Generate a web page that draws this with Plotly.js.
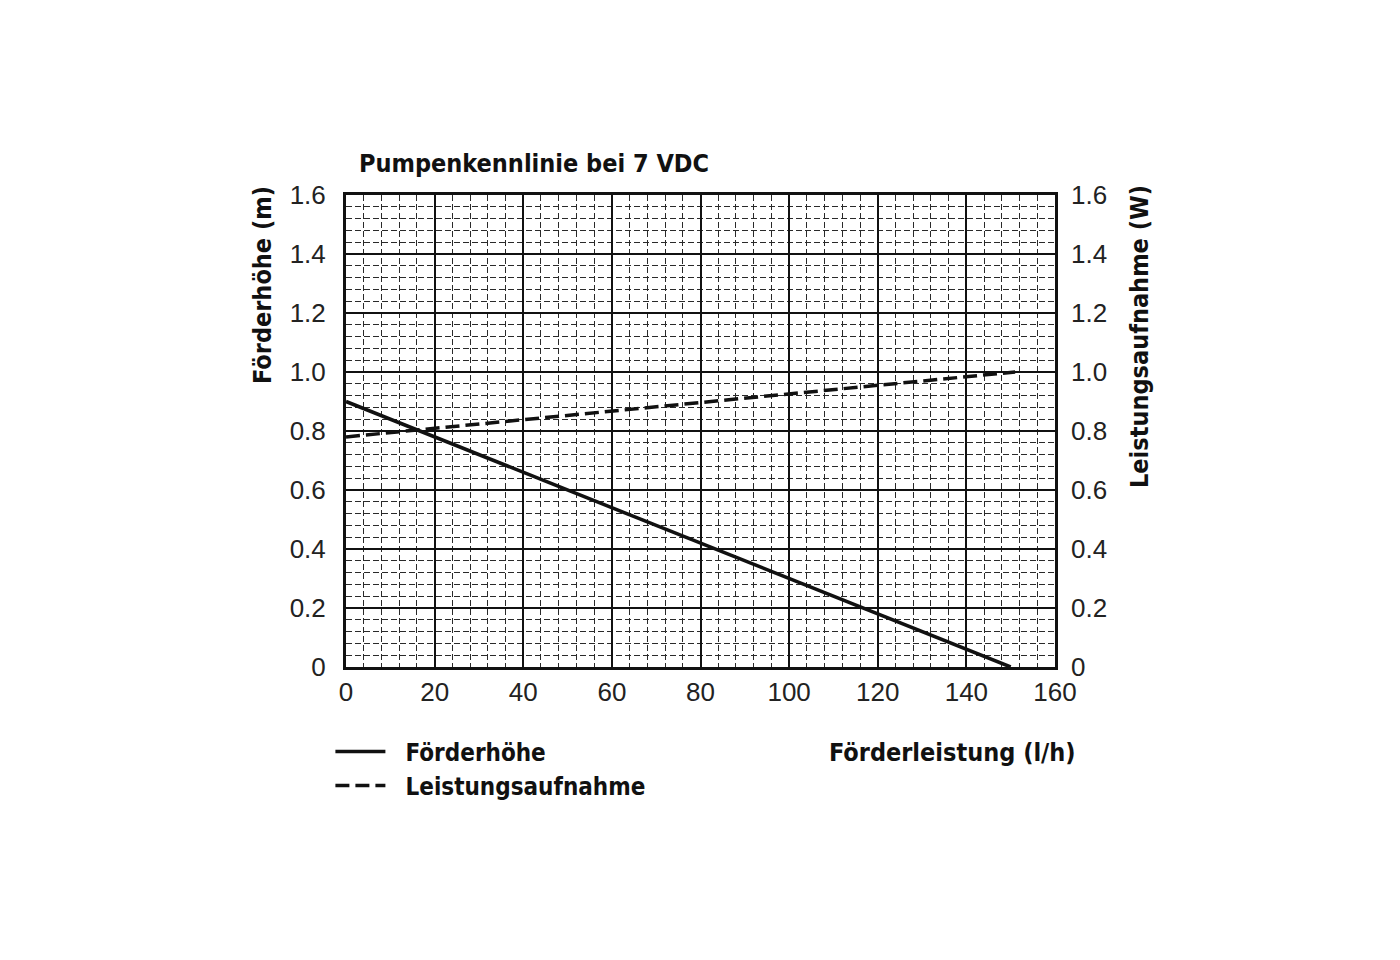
<!DOCTYPE html>
<html>
<head>
<meta charset="utf-8">
<script src="https://cdn.plot.ly/plotly-3.0.1.min.js"></script>
<style>html,body{margin:0;padding:0;background:#fff;}#chart{width:1400px;height:960px;}</style>
</head>
<body>
<div id="chart"></div>
<script>
// Data
const flowHead = [0, 150];          // Förderleistung (l/h)
const headValues = [0.9, 0.0];      // Förderhöhe (m)
const flowPower = [0, 151];         // Förderleistung (l/h)
const powerValues = [0.78, 1.0];    // Leistungsaufnahme (W)
const xTicks = [0, 20, 40, 60, 80, 100, 120, 140, 160];
const xTickText = ["0", "20", "40", "60", "80", "100", "120", "140", "160"];
const yTicks = [0, 0.2, 0.4, 0.6, 0.8, 1.0, 1.2, 1.4, 1.6];
const yTickText = ["0", "0.2", "0.4", "0.6", "0.8", "1.0", "1.2", "1.4", "1.6"];
const seriesNames = ["Förderhöhe", "Leistungsaufnahme"];

const narrow = "Liberation Sans Narrow, Arial Narrow, DejaVu Sans Condensed, sans-serif";
const regular = "Liberation Sans, Arial, sans-serif";
const pad = "\u2002\u2009";

const traces = [
  {x: flowHead, y: headValues, name: pad + seriesNames[0], mode: "lines", yaxis: "y",
   line: {color: "#111", width: 3.5, dash: "solid"}},
  {x: flowPower, y: powerValues, name: pad + seriesNames[1], mode: "lines", yaxis: "y2",
   line: {color: "#111", width: 3.5, dash: "14px,6px"}}
];

const minorGrid = {showgrid: true, gridcolor: "#2a2a2a", gridwidth: 1, griddash: "6px,3px"};

const layout = {
  width: 1400, height: 960,
  margin: {l: 346, r: 345, t: 195, b: 293, pad: 0},
  paper_bgcolor: "#fff", plot_bgcolor: "#fff",
  showlegend: true,
  legend: {x: -0.022, xanchor: "left", y: -0.132, yanchor: "top",
    font: {family: narrow, size: 24, color: "#111", weight: "bold"},
    itemwidth: 50, tracegroupgap: 0, bgcolor: "rgba(0,0,0,0)", traceorder: "normal"},
  xaxis: {range: [0, 160], tickvals: xTicks, ticktext: xTickText, ticks: "",
    showgrid: true, gridcolor: "#111", gridwidth: 2,
    minor: Object.assign({dtick: 4}, minorGrid),
    showline: true, linecolor: "#111", linewidth: 3, mirror: true, zeroline: false,
    tickfont: {family: regular, size: 26, color: "#222"}, fixedrange: true},
  yaxis: {range: [0, 1.6], tickvals: yTicks, ticktext: yTickText, ticks: "",
    showgrid: true, gridcolor: "#111", gridwidth: 2,
    minor: Object.assign({dtick: 0.04}, minorGrid),
    showline: true, linecolor: "#111", linewidth: 3, mirror: true, zeroline: false,
    ticklabelstandoff: 12,
    tickfont: {family: regular, size: 26, color: "#222"}, fixedrange: true},
  yaxis2: {range: [0, 1.6], tickvals: yTicks, ticktext: yTickText, ticks: "",
    overlaying: "y", side: "right", showgrid: false, zeroline: false, showline: false,
    ticklabelstandoff: 15,
    tickfont: {family: regular, size: 26, color: "#222"}, fixedrange: true},
  annotations: [
    {text: "Pumpenkennlinie bei 7 VDC", xref: "paper", yref: "paper",
     x: 0.015, y: 1.0, xanchor: "left", yanchor: "bottom", yshift: 15, showarrow: false,
     font: {family: narrow, size: 25, color: "#111", weight: "bold"}},
    {text: "Förderhöhe (m)", xref: "paper", yref: "paper",
     x: 0, xshift: -84, y: (667 - 285) / 472, xanchor: "center", yanchor: "middle",
     textangle: -90, showarrow: false,
     font: {family: narrow, size: 25, color: "#111", weight: "bold"}},
    {text: "Leistungsaufnahme (W)", xref: "paper", yref: "paper",
     x: 1, xshift: 84, y: (667 - 337) / 472, xanchor: "center", yanchor: "middle",
     textangle: -90, showarrow: false,
     font: {family: narrow, size: 25, color: "#111", weight: "bold"}},
    {text: "Förderleistung (l/h)", xref: "paper", yref: "paper",
     x: 1, xshift: 23, y: (667 - 752) / 472, xanchor: "right", yanchor: "middle",
     showarrow: false,
     font: {family: narrow, size: 25, color: "#111", weight: "bold"}}
  ]
};

Plotly.newPlot("chart", traces, layout, {displayModeBar: false, staticPlot: true});
</script>
</body>
</html>
